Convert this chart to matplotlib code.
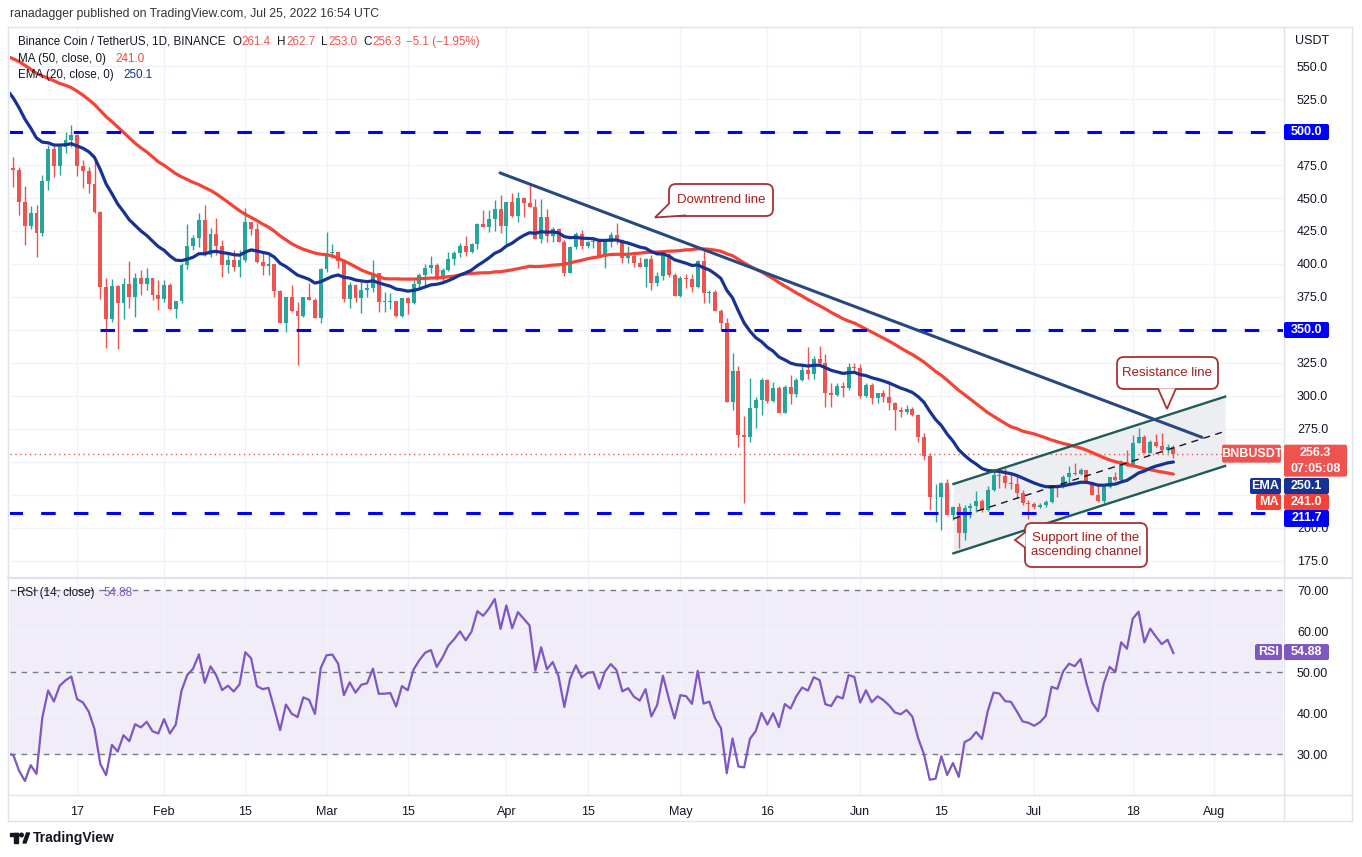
import numpy as np
import pandas as pd
import matplotlib
matplotlib.use("Agg")
import matplotlib.pyplot as plt
import matplotlib.dates as mdates
from matplotlib.patches import FancyBboxPatch, Polygon, Rectangle, Circle
from matplotlib.lines import Line2D
from matplotlib.transforms import Affine2D

plt.rcParams['font.family'] = ['Liberation Sans', 'DejaVu Sans']

W, H = 1362, 857
UP, DOWN = '#26a69a', '#ef5350'

# === Data (BNB/USDT daily) ===
start_date = "2022-01-05"
first_open = 506.0

closes = [
    # Jan 5 - Jan 31
    473, 471.5, 447.2, 429, 438.4, 423.7, 462.9, 487.1, 474.2, 488.9, 494, 497.5, 474.2, 470.7,
    460.6, 439.7, 382.8, 358.1, 383.3, 370.7, 384.8, 374.8, 389.4, 384.8, 389.4, 376.5, 373.5,
    # Feb
    384, 365.9, 372.2, 399.2, 413.6, 419.5, 433.3, 406.8, 422.7, 413.9, 399.2, 403, 397.4, 403,
    431.5, 426.5, 401.7, 398.7, 399.7, 379.8, 355.5, 374.7, 364.4, 360.6, 375.2, 372.7, 358.8, 395.9,
    # Mar
    408.6, 409.3, 402, 373.2, 384, 374, 380.3, 381.5, 392.9, 371.4, 371.5, 371.9, 360.6, 374, 370.7,
    384.8, 391.7, 397.2, 399.2, 389.1, 395.4, 403.5, 408, 413.6, 409.3, 415.1, 430.3, 428.3, 433.8,
    441.4, 428.8,
    # Apr
    447.2, 436.4, 449.7, 446.5, 443.4, 418.9, 435.3, 421.2, 426.3, 416.9, 393.4, 412.6, 422.7, 413.6,
    416.9, 417.4, 406, 416.9, 422, 418.2, 404.3, 406.1, 400.5, 398, 403.6, 385.4, 391, 406.9, 391.7, 375.8,
    # May
    389.2, 388.4, 382.9, 402.6, 377.8, 379, 364.7, 355.6, 295.7, 319.2, 270.5, 268.7, 290.7, 297,
    312.2, 296.5, 305.9, 287.4, 307.1, 301.6, 312.2, 319.7, 316.7, 327.8, 325.3, 302.6, 300.8, 307.6,
    305.8, 322.2, 320.9,
    # Jun
    300, 308.3, 298.2, 302, 299, 294.9, 289.4, 288.1, 290.1, 285.6, 269.2, 254.5, 223.2, 223.7, 233.8,
    209.8, 215.6, 196.4, 214.9, 216.6, 220.4, 213.6, 228.8, 240.1, 239.4, 233.8, 233.3, 226.7, 219.2, 218.2,
    # Jul 1 - Jul 25
    216.1, 217.5, 219.9, 231.8, 230.8, 238.4, 241.9, 240.9, 243.9, 234.3, 225, 220.7, 231.3, 238.4,
    236.3, 250.2, 247.7, 264.6, 269.2, 257.1, 265.4, 262.1, 259.1, 261.4, 256.3,
]
highs = [
    510, 481, 473.2, 459, 443.9, 444.7, 467.4, 490.2, 489.4, 491.4, 499.7, 505.3, 498.2, 478.8,
    473.2, 478, 440, 389.1, 388.4, 384, 389.1, 402.3, 393.4, 395.5, 397.2, 389.4, 387.9,
    387.9, 385.4, 372.2, 400.5, 430, 422, 438.4, 444.7, 427, 434.6, 418.1, 409.3, 410.6, 410.6,
    442.1, 432, 430.8, 410, 406.8, 399.7, 380.3, 374.7, 384.1, 371.4, 375.2, 385.3, 373.9, 396.7,
    424.5, 415.1, 409.3, 403.5, 386.6, 384.8, 387.9, 385.3, 403, 393.4, 379, 378, 372, 374, 374.7,
    387.9, 393, 400, 406, 400.5, 396.7, 409.3, 410, 416, 421.2, 416.2, 431.3, 440.9, 440.9, 448.5, 452.3,
    447.2, 454, 454.8, 451, 459.8, 449, 449, 441.4, 428.3, 427.5, 418.2, 413.6, 424.5, 425.7,
    417.7, 419, 417.7, 418.2, 424.5, 430.8, 418.7, 413.7, 409.4, 405, 404.3, 406.9, 394.2, 409.4, 408.1, 393,
    391, 392.2, 392.5, 403, 411.9, 380.3, 380.3, 365.7, 358.9, 332.4, 322.8, 284.9, 313.4, 299.5,
    313.4, 312.7, 310.9, 307.6, 308.4, 316, 313.4, 323.5, 337.4, 330.3, 337.9, 331.9, 310.1, 310.1,
    310.8, 324.7, 325.2,
    324.2, 309.6, 310.1, 302.5, 304.5, 311.6, 295.7, 291.9, 293.2, 291.9, 286.3, 271.7, 256.5, 233.3, 235.1,
    236.8, 216.7, 218.7, 217.4, 218.7, 228.3, 221.7, 231.8, 243.4, 243.9, 245.2, 240.9, 240.1, 228.8, 221,
    220, 219, 221.2, 232.6, 233.3, 240.1, 247, 249, 245.2, 243.9, 235.1, 232.6, 232.6, 238.9,
    242.7, 251.5, 259.1, 270.4, 275.5, 270.4, 266.6, 271.2, 272.2, 263.6, 262.7,
]
lows = [
    465, 458.6, 437.1, 414.4, 426.5, 405.6, 421.5, 456.1, 466.2, 467.4, 484.4, 488.9, 466.7, 457.3,
    453.5, 438.4, 373.5, 336.6, 356.3, 335.9, 358.1, 366.4, 360.1, 376.5, 380.3, 372.7, 365.2,
    371.5, 365.2, 359.4, 370.2, 396.2, 410.6, 413.1, 406.3, 405, 406.8, 390.4, 393.4, 394.9, 390.4,
    401.7, 421.9, 400.5, 391.6, 391.6, 375.2, 355, 348.7, 363.9, 323.4, 360.1, 372.7, 358.8, 355,
    394.2, 404.3, 396.7, 371, 366.4, 371.4, 362.6, 375.2, 379, 363.9, 363.9, 366, 360, 359.6, 361.8,
    369.7, 382.8, 384, 392.9, 387.9, 385.3, 395, 399.2, 405, 406, 408, 411.4, 427.8, 424.5, 425, 423.7,
    413.1, 435.9, 432, 435.9, 442.9, 418.9, 416.2, 416.9, 416.9, 416.9, 390.9, 392.9, 411.1, 411.1,
    411.9, 411.9, 405, 396.7, 413.1, 415.1, 400.5, 400.5, 397.5, 397.5, 382.4, 380.3, 383.4, 387.9, 390.4, 375.8,
    374.8, 381.6, 379, 381.6, 370.7, 370.7, 364.4, 349.3, 295.7, 289.4, 261.2, 219.2, 265.5, 275.6,
    285.6, 295, 295.7, 287.4, 286.9, 294, 299.5, 311, 312.7, 312.7, 324.3, 291.5, 291.5, 300,
    299, 304.5, 317.2,
    298.2, 299.5, 293.9, 294.9, 295.7, 289.4, 274.2, 283.8, 286.3, 284.8, 265.4, 251.5, 213.6, 204.8, 198.5,
    209.8, 206, 184.6, 190.9, 207.3, 212.3, 212.3, 213.1, 228.3, 230, 230, 229.3, 222.5, 217.4, 206.5,
    214, 214.8, 215.6, 218.7, 223.2, 230, 232.6, 240.1, 240.1, 233.8, 225, 219.9, 218.7, 230,
    235.8, 235.8, 247, 247, 264.1, 256.5, 256.5, 261.6, 256.5, 257.1, 253,
]
# off-screen closes Nov 16 2021 - Jan 4 2022, only to warm up MA(50) / EMA(20) / RSI(14)
prior_closes = [
    590, 575, 545, 575, 585, 580, 560, 575, 570, 590, 565, 585, 610, 620, 630,
    625, 615, 585, 575, 570, 590, 585, 590, 560, 545, 560, 565, 515, 525, 530, 520, 515,
    525, 520, 520, 530, 545, 555, 560, 560, 565, 570, 540, 525, 530, 515,
    535, 535, 522, 512,
]

# values printed in the chart's legend / axis tags
legend_ohlc = ["261.4", "262.7", "253.0", "256.3"]
legend_change = "\u22125.1 (\u22121.95%)"
legend_ma = 241.0
legend_ema = 250.1
legend_rsi = 54.88

levels = [500.0, 350.0, 211.7]
level_starts = ["2022-01-05", "2022-01-21", "2022-01-05"]
downtrend_dates = ["2022-03-30 22:00", "2022-07-29 22:00"]
downtrend_prices = [469.0, 268.7]
channel_dates = ["2022-06-17 02:00", "2022-08-02 22:00"]
channel_top = [233.3, 299.5]
channel_bottom = [180.8, 247.0]

tick_dates = ["2022-01-17", "2022-02-01", "2022-02-15", "2022-03-01", "2022-03-15", "2022-04-01",
              "2022-04-15", "2022-05-01", "2022-05-16", "2022-06-01", "2022-06-15", "2022-07-01",
              "2022-07-18", "2022-08-01"]
tick_labels = ["17", "Feb", "15", "Mar", "15", "Apr", "15", "May", "16", "Jun", "15", "Jul", "18", "Aug"]
price_ticks = list(range(175, 551, 25))
hidden_price_ticks = [225, 250, 350, 500]   # covered by the axis tags
rsi_ticks = [30, 40, 50, 60, 70]

# === Indicators ===
dates = pd.date_range(start_date, periods=len(closes), freq="D")
all_dates = pd.date_range(end=dates[-1], periods=len(prior_closes) + len(closes), freq="D")
all_close = pd.Series(prior_closes + closes, index=all_dates, dtype=float)
ma50 = all_close.rolling(50).mean()
ema20 = all_close.ewm(span=20, adjust=False).mean()
delta = all_close.diff()
gain = delta.clip(lower=0).ewm(alpha=1 / 14, adjust=False).mean()
loss = (-delta.clip(upper=0)).ewm(alpha=1 / 14, adjust=False).mean()
rsi = 100 - 100 / (1 + gain / loss)

# === Figure ===
fig = plt.figure(figsize=(W / 100, H / 100), dpi=100)
fig.patch.set_facecolor('white')
pix = Affine2D().scale(1 / W, -1 / H).translate(0, 1) + fig.transFigure
renderer = fig.canvas.get_renderer()


def axes_px(x0, y0, x1, y1):
    return fig.add_axes([x0 / W, 1 - y1 / H, (x1 - x0) / W, (y1 - y0) / H])


ax = axes_px(10, 28, 1283, 578)
axr = axes_px(10, 579, 1283, 795)

day0 = mdates.date2num(pd.Timestamp("2022-01-06"))
xlim = (day0 - 0.57, day0 + 218.9)
tick_x = mdates.date2num(pd.to_datetime(tick_dates))

for a in (ax, axr):
    a.set_xlim(*xlim)
    a.set_xticks(tick_x)
    for s in a.spines.values():
        s.set_visible(False)
    a.yaxis.tick_right()
    a.set_axisbelow(True)
    a.grid(color='#f0f3fa', lw=1)
    a.tick_params(length=0, colors='#131722', labelsize=9)

ax.set_ylim(162.1, 578.8)
ax.set_yticks(price_ticks)
ax.set_yticklabels(["" if v in hidden_price_ticks else f"{v:.1f}" for v in price_ticks])
ax.tick_params(axis='y', pad=10)
ax.tick_params(axis='x', labelbottom=False)

# --- candles ---
x = mdates.date2num(dates)
o = np.array([first_open] + closes[:-1])
c = np.array(closes, dtype=float)
col = np.where(c >= o, UP, DOWN)
ax.vlines(x, lows, highs, colors=col, lw=1, zorder=3)
ax.bar(x, np.maximum(np.abs(c - o), 0.6), bottom=np.minimum(o, c), width=0.68,
       color=col, linewidth=0, zorder=3)

# --- indicators ---
ax.plot(ma50.index, ma50.values, color='#f44336', lw=2.3, zorder=4, solid_capstyle='round')
ax.plot(ema20.index, ema20.values, color='#163293', lw=2.3, zorder=4, solid_capstyle='round')

# --- drawings ---
cx = mdates.date2num(pd.to_datetime(channel_dates))
ax.fill_between(cx, channel_bottom, channel_top, color='#eceef2', zorder=1, lw=0)
ax.plot(cx, channel_top, color='#1f5c58', lw=1.7, zorder=5)
ax.plot(cx, channel_bottom, color='#1f5c58', lw=1.7, zorder=5)
mid = [(t + b) / 2 for t, b in zip(channel_top, channel_bottom)]
ax.plot(cx, mid, color='#131722', lw=1, ls=(0, (5, 4)), zorder=5)

for lv, st in zip(levels, level_starts):
    ax.hlines(lv, mdates.date2num(pd.Timestamp(st)), xlim[1], color='#0000ff', lw=2.2,
              linestyles=[(0, (4.75, 5.95))], zorder=5)

ax.plot(mdates.date2num(pd.to_datetime(downtrend_dates)), downtrend_prices, color='#27497f',
        lw=2.2, zorder=5, solid_capstyle='round')

ax.axhline(closes[-1], color='#ef5350', lw=1, ls=(0, (1, 2.5)), zorder=2)

# --- RSI pane ---
axr.set_ylim(20.0, 72.7)
axr.set_yticks(rsi_ticks)
axr.set_yticklabels([f"{v:.2f}" for v in rsi_ticks])
axr.tick_params(axis='y', pad=10)
axr.set_xticklabels(tick_labels)
axr.tick_params(axis='x', pad=8)
axr.axhspan(30, 70, color='#7e57c2', alpha=0.1, lw=0, zorder=0)
for lv in (30, 50, 70):
    axr.axhline(lv, color='#787b86', lw=1, ls=(0, (4, 4)), zorder=1)
axr.plot(rsi.index, rsi.values, color='#7e57c2', lw=1.6, zorder=3)


# === frame lines (pixel coords) ===
def hline_px(y, x0, x1, lw=1, color='#e0e3eb'):
    fig.add_artist(Line2D([x0, x1], [y, y], transform=pix, color=color, lw=lw, zorder=8))


def vline_px(xv, y0, y1, lw=1, color='#e0e3eb'):
    fig.add_artist(Line2D([xv, xv], [y0, y1], transform=pix, color=color, lw=lw, zorder=8))


hline_px(27, 8, 1352)
hline_px(821, 8, 1352)
vline_px(8, 27, 821)
vline_px(1352, 27, 821)
vline_px(1283.5, 27, 821)
hline_px(578.5, 8, 1352, lw=1.6)
hline_px(795, 8, 1352)


def txt(xp, yp, s, color='#131722', size=9, **kw):
    return fig.text(xp, yp, s, transform=pix, color=color, fontsize=size, va='center', **kw)


def chain(xp, yp, parts, size=8.4):
    # parts: (text, colour, gap after in px)
    for s, cl, gap in parts:
        t = txt(xp, yp, s, cl, size)
        xp = t.get_window_extent(renderer).x1 + gap


DARK = '#131722'
txt(10, 14, "ranadagger published on TradingView.com, Jul 25, 2022 16:54 UTC", '#333333', 8.8)
oh, hh, ll, cc = legend_ohlc
chain(18, 42, [("Binance Coin / TetherUS, 1D, BINANCE", DARK, 7), ("O", DARK, 0.5), (oh, DOWN, 6),
               ("H", DARK, 0.5), (hh, DOWN, 6), ("L", DARK, 0.5), (ll, DOWN, 6),
               ("C", DARK, 0.5), (cc, DOWN, 5), (legend_change, DOWN, 0)])
chain(18, 59, [("MA (50, close, 0)", DARK, 10), (f"{legend_ma:.1f}", '#f44336', 0)])
chain(18, 75, [("EMA (20, close, 0)", DARK, 10), (f"{legend_ema:.1f}", '#163293', 0)])
chain(17, 593, [("RSI (14, close)", DARK, 9), (f"{legend_rsi:.2f}", '#7e57c2', 0)])
txt(1295, 41, "USDT", size=9)

# bottom logo
fig.add_artist(Rectangle((10, 833), 8, 3.5, transform=pix, color=DARK, zorder=9))
fig.add_artist(Rectangle((14, 833), 3.5, 10, transform=pix, color=DARK, zorder=9))
fig.add_artist(Circle((21.5, 835), 1.8, transform=pix, color=DARK, zorder=9))
fig.add_artist(Polygon([(23, 843), (26.5, 833), (29.5, 833), (26, 843)], transform=pix,
                       color=DARK, zorder=9))
txt(33, 838, "TradingView", DARK, 10, fontweight='bold')


# === axis tags ===
def tag(x0, x1, y0, y1, color, lines, size=9, bold=True):
    fig.add_artist(FancyBboxPatch((x0, y0), x1 - x0, y1 - y0, transform=pix,
                                  boxstyle="round,pad=0,rounding_size=2", fc=color, ec='none',
                                  zorder=10))
    n = len(lines)
    for i, s in enumerate(lines):
        yc = y0 + (y1 - y0) * (i + 0.5) / n
        fig.text((x0 + x1) / 2, yc, s, transform=pix, color='white', fontsize=size,
                 ha='center', va='center', fontweight='bold' if bold else 'normal', zorder=11)


def ypix(a, v):
    return H - a.transData.transform((xlim[0], v))[1]


for lv in (500.0, 350.0):
    yc = ypix(ax, lv)
    tag(1284, 1329, yc - 8, yc + 8, '#0000ff', [f"{lv:.1f}"])
tag(1284, 1329, 510, 527, '#0000ff', [f"{levels[2]:.1f}"])
yb = ypix(ax, closes[-1])
tag(1222, 1281, yb - 9, yb + 9, '#ef5350', ["BNBUSDT"])
tag(1284, 1347, yb - 9, yb + 23, '#ef5350', [f"{closes[-1]:.1f}", "07:05:08"])
tag(1250, 1281, 478, 494, '#163293', ["EMA"])
tag(1284, 1329, 478, 494, '#163293', [f"{legend_ema:.1f}"])
tag(1256, 1281, 494, 510, '#f44336', ["MA"])
tag(1284, 1329, 494, 510, '#f44336', [f"{legend_ma:.1f}"])
yr = ypix(axr, legend_rsi)
tag(1255, 1282, yr - 8, yr + 8, '#7e57c2', ["RSI"])
tag(1284, 1329, yr - 8, yr + 8, '#7e57c2', [f"{legend_rsi:.2f}"])

# === callouts ===
EDGE, TXT = '#a83232', '#a61c1c'


def callout(x0, y0, x1, y1, tail, lines):
    fig.add_artist(FancyBboxPatch((x0, y0), x1 - x0, y1 - y0, transform=pix,
                                  boxstyle="round,pad=0,rounding_size=7", fc='white', ec=EDGE,
                                  lw=1.3, zorder=12))
    fig.add_artist(Polygon(tail, closed=False, transform=pix, fc='white', ec=EDGE, lw=1.3,
                           zorder=13, joinstyle='miter'))
    n = len(lines)
    for i, s in enumerate(lines):
        yc = (y0 + y1) / 2 + (i - (n - 1) / 2) * 14
        fig.text((x0 + x1) / 2, yc, s, transform=pix, color=TXT, fontsize=9.5, ha='center',
                 va='center', zorder=14)


callout(669, 184, 773, 216, [(669.6, 203), (655, 217.5), (686, 215.4)], ["Downtrend line"])
callout(1117, 357, 1218, 389, [(1158, 388.4), (1167, 409), (1176, 388.4)], ["Resistance line"])
callout(1025, 523, 1147, 567, [(1025.6, 532), (1015, 540), (1025.6, 548)],
        ["Support line of the", "ascending channel"])

fig.savefig("out.png", dpi=100, facecolor='white')
